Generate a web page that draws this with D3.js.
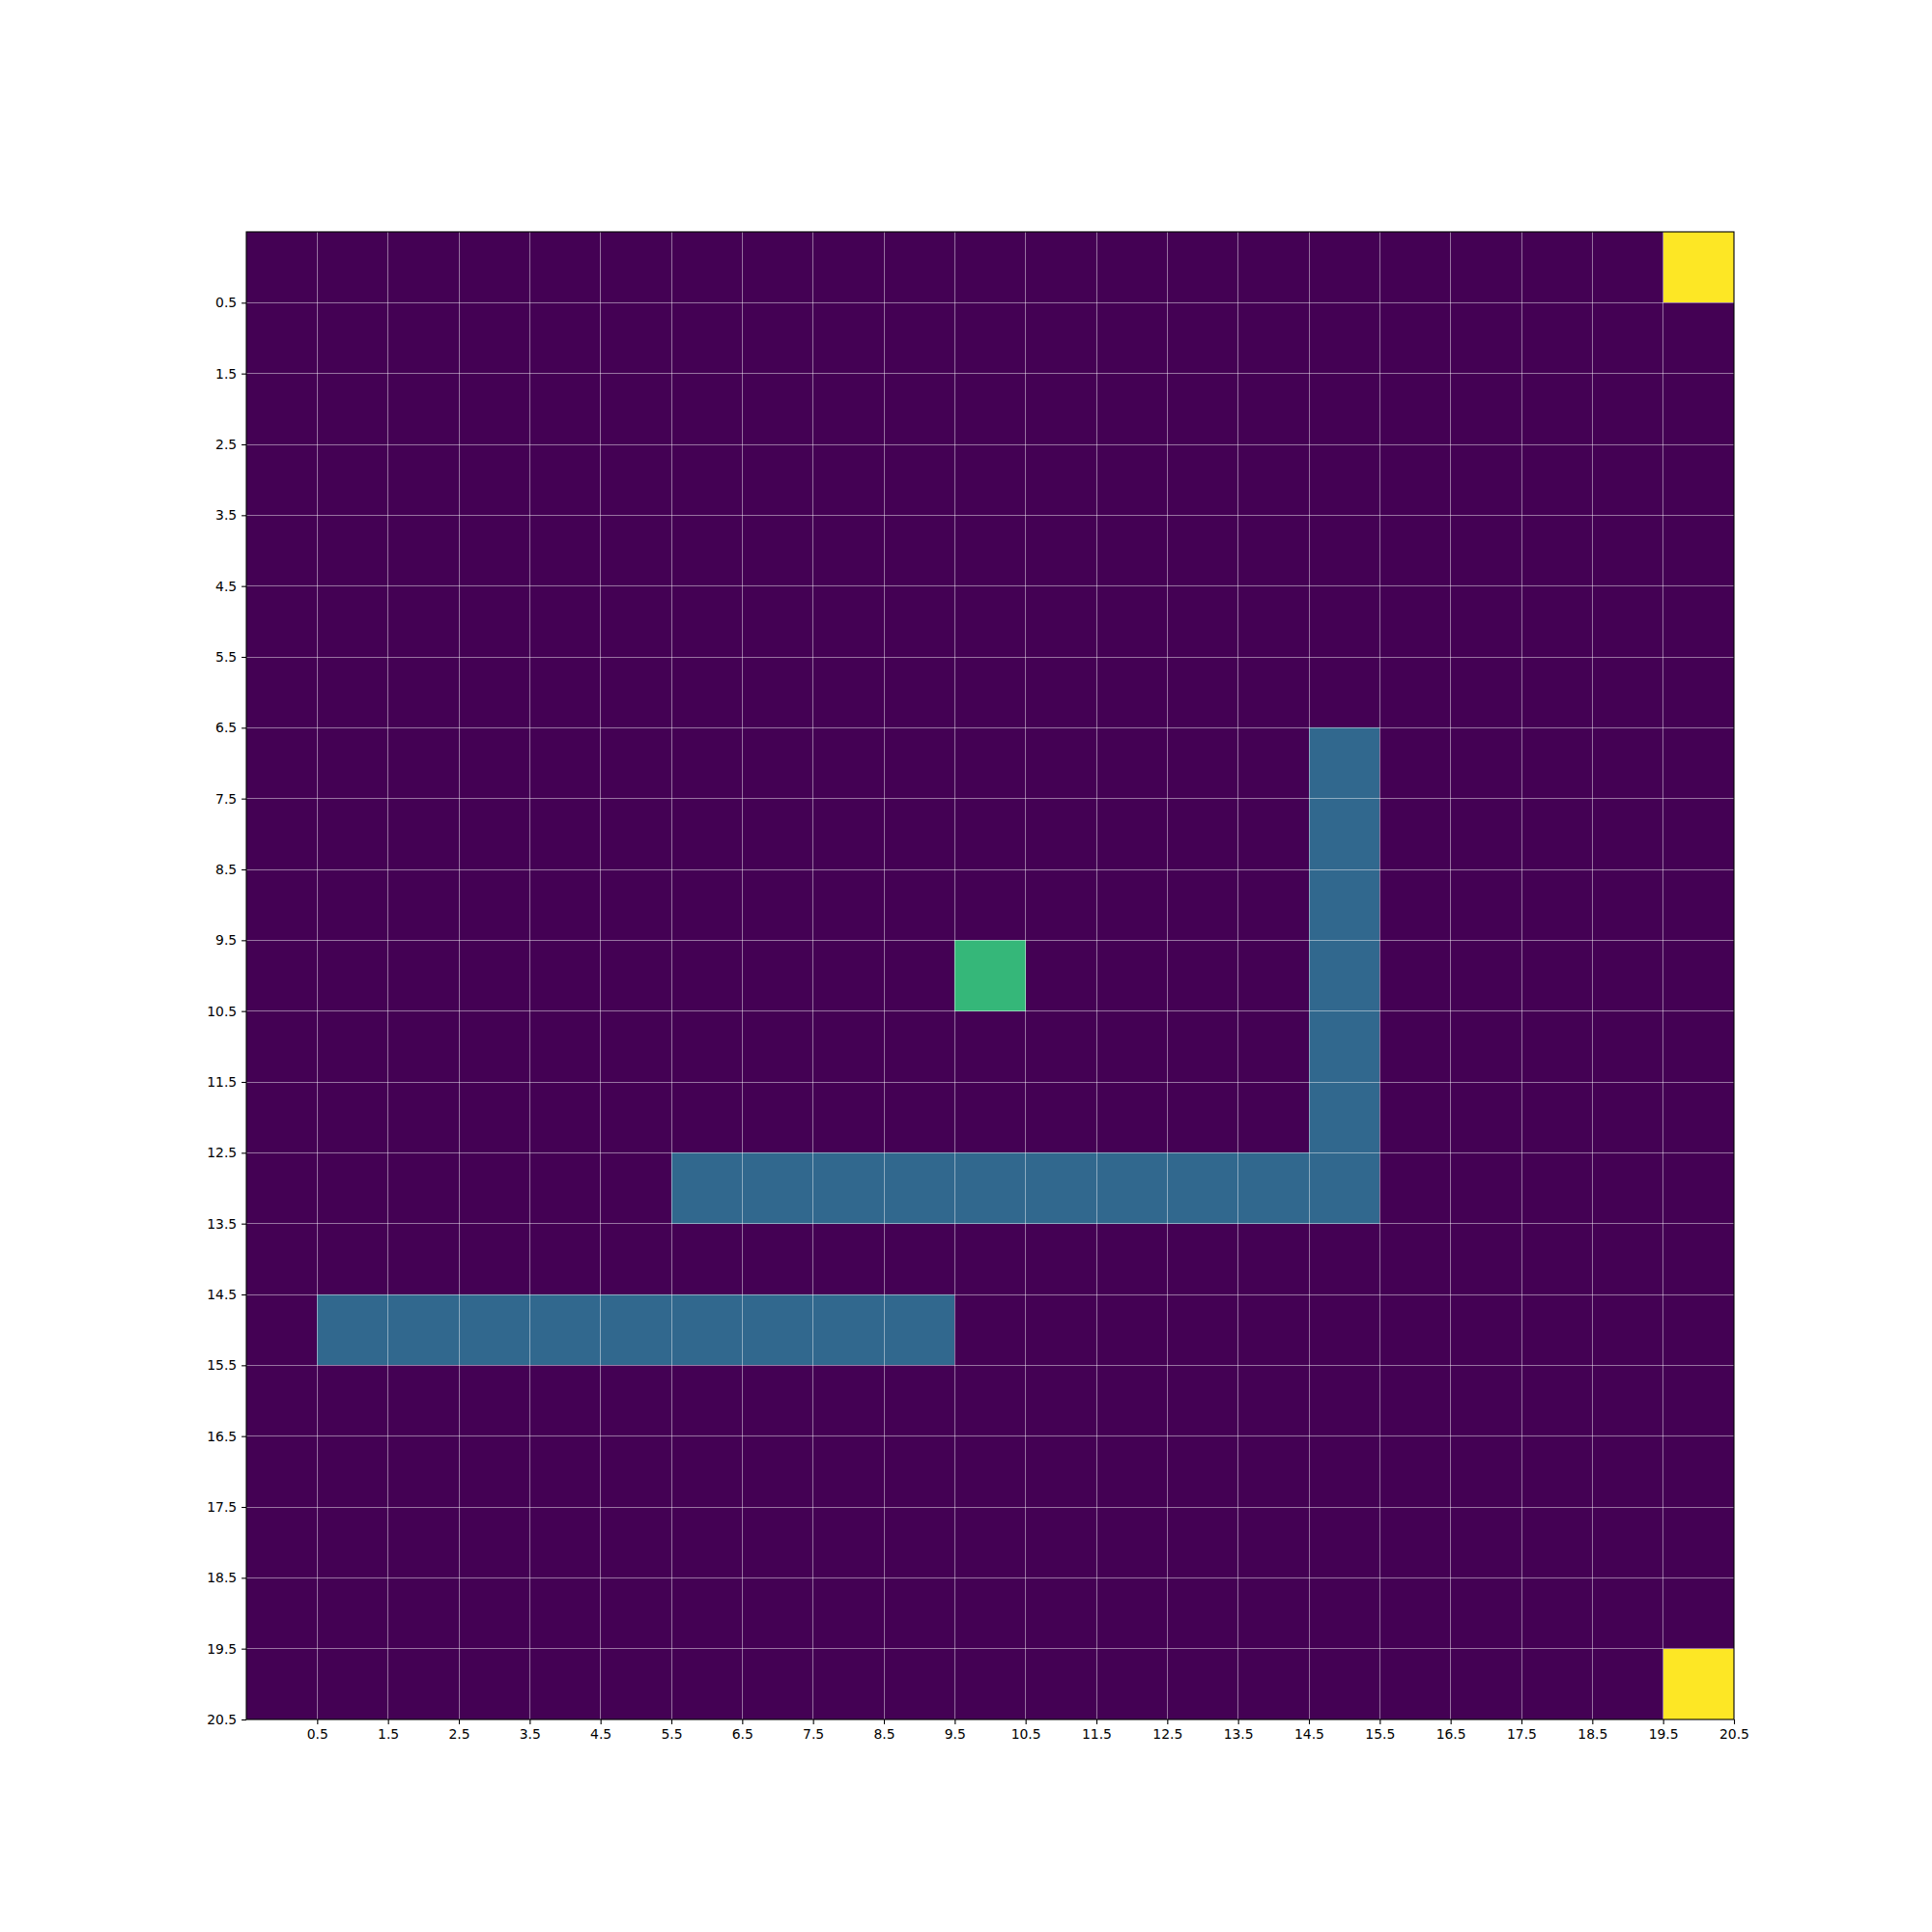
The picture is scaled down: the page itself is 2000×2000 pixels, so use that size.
<!DOCTYPE html>
<html><head><meta charset="utf-8">
<script src="https://cdn.jsdelivr.net/npm/d3@7"></script>
<style>body{margin:0;background:#fff}</style>
</head><body>
<svg id="c" width="2000" height="2000"></svg>
<script>
const nRows = 21, nCols = 21;
// Non-background cells: [row, col]
const yellowCells = [[0,20],[20,20]];
const greenCells = [[10,10]];
const blueVertical = [[7,15],[8,15],[9,15],[10,15],[11,15],[12,15]];
const blueRow13 = [[13,6],[13,7],[13,8],[13,9],[13,10],[13,11],[13,12],[13,13],[13,14],[13,15]];
const blueRow15 = [[15,1],[15,2],[15,3],[15,4],[15,5],[15,6],[15,7],[15,8],[15,9]];
const tickValues = [0.5,1.5,2.5,3.5,4.5,5.5,6.5,7.5,8.5,9.5,10.5,11.5,12.5,13.5,14.5,15.5,16.5,17.5,18.5,19.5,20.5];

const grid = [];
for (let r = 0; r < nRows; r++) for (let c = 0; c < nCols; c++) grid.push({r, c, v: 0});
const setV = (cells, v) => cells.forEach(([r,c]) => { grid[r*nCols + c].v = v; });
setV(blueVertical, 1); setV(blueRow13, 1); setV(blueRow15, 1);
setV(greenCells, 2); setV(yellowCells, 3);

const L = 255, R = 1795, T = 240, B = 1780;
const svg = d3.select("#c");
const x = d3.scaleLinear().domain([-0.5, 20.5]).range([L, R]);
const y = d3.scaleLinear().domain([-0.5, 20.5]).range([T, B]);
const color = d3.scaleSequential(d3.interpolateViridis).domain([0, 3]);

svg.append("g").selectAll("rect").data(grid).join("rect")
  .attr("x", d => x(d.c - 0.5)).attr("y", d => y(d.r - 0.5))
  .attr("width", x(1) - x(0)).attr("height", y(1) - y(0))
  .attr("fill", d => color(d.v)).attr("shape-rendering", "crispEdges");

// grid lines
const g = svg.append("g").attr("stroke", "#ffffff").attr("stroke-opacity", 0.45)
  .attr("stroke-width", 1).attr("shape-rendering", "crispEdges");
tickValues.forEach(t => {
  g.append("line").attr("x1", x(t)).attr("x2", x(t)).attr("y1", T).attr("y2", B);
  g.append("line").attr("y1", y(t)).attr("y2", y(t)).attr("x1", L).attr("x2", R);
});

const fmt = d3.format(".1f");
const xAxis = d3.axisBottom(x).tickValues(tickValues).tickFormat(fmt).tickSize(4.9).tickPadding(4.9);
const yAxis = d3.axisLeft(y).tickValues(tickValues).tickFormat(fmt).tickSize(4.9).tickPadding(4.9);
const xa = svg.append("g").attr("transform", `translate(0,${B})`).call(xAxis);
const ya = svg.append("g").attr("transform", `translate(${L},0)`).call(yAxis);
[xa, ya].forEach(a => {
  a.select(".domain").remove();
  a.selectAll("line").attr("stroke", "#000").attr("stroke-width", 1.1);
  a.selectAll("text").attr("font-family", "DejaVu Sans").attr("font-size", 13.9).attr("fill", "#000");
});
svg.append("rect").attr("x", L).attr("y", T).attr("width", R - L).attr("height", B - T)
  .attr("fill", "none").attr("stroke", "#000").attr("stroke-width", 1.1);
</script>
</body></html>
